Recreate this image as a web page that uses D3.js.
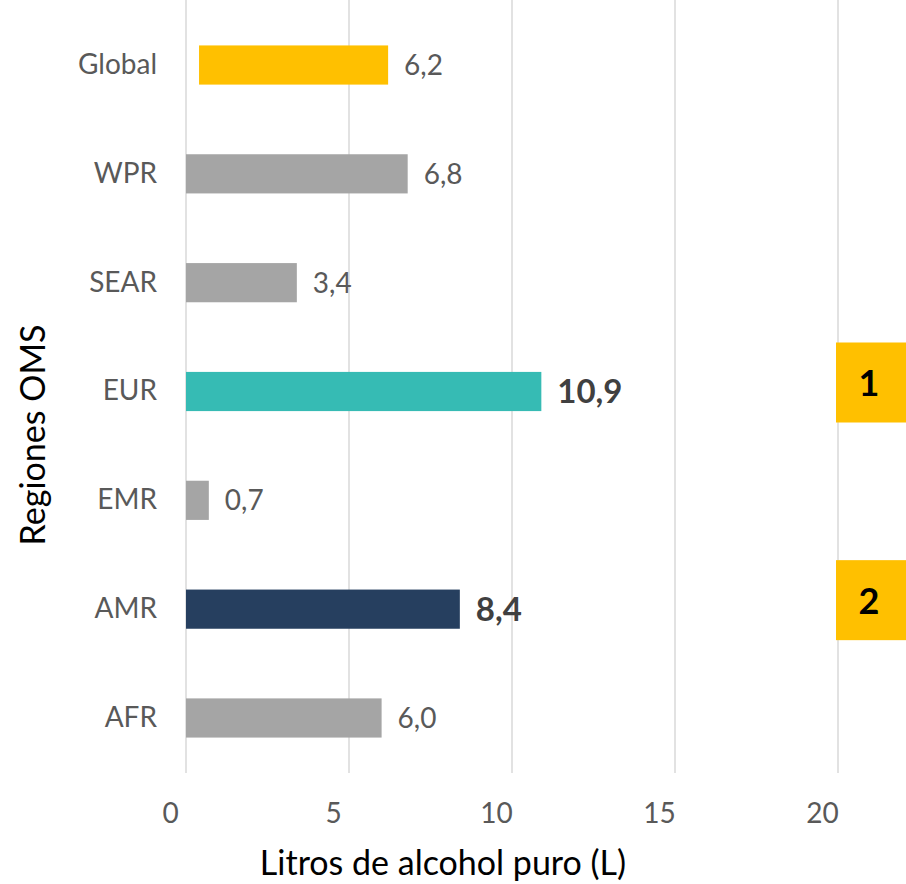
<!DOCTYPE html>
<html><head><meta charset="utf-8">
<script src="https://cdn.jsdelivr.net/npm/d3@7"></script>
<style>body{margin:0;background:#fff}svg{display:block}text{font-family:Lato,"Open Sans",sans-serif}</style>
</head><body>
<svg id="c" width="906" height="884"></svg>
<script>
const categories = ["Global","WPR","SEAR","EUR","EMR","AMR","AFR"];
const values = [6.2,6.8,3.4,10.9,0.7,8.4,6.0];
const barStarts = [0.4,0,0,0,0,0,0];
const valueLabels = ["6,2","6,8","3,4","10,9","0,7","8,4","6,0"];
const highlight = [false,false,false,true,false,true,false];
const barColors = ["#FFC000","#A5A5A5","#A5A5A5","#36BBB4","#A5A5A5","#263F5F","#A5A5A5"];
const xTicks = [0,5,10,15,20];
const badges = [{label:"1", cat:"EUR"},{label:"2", cat:"AMR"}];

const svg = d3.select("#c");
const x = d3.scaleLinear().domain([0,20]).range([186,838]);
const y = d3.scaleBand().domain(categories).range([10.6,772.4]).paddingInner(0.64).paddingOuter(0.32);

// gridlines
svg.append("g").selectAll("line").data(xTicks).join("line")
  .attr("x1",d=>x(d)).attr("x2",d=>x(d)).attr("y1",0).attr("y2",773)
  .attr("stroke","#D9D9D9").attr("stroke-width",1.5);

// x tick labels
const xa = svg.append("g").attr("transform","translate(-16,803)")
  .call(d3.axisBottom(x).tickValues(xTicks).tickSize(0).tickPadding(0).tickFormat(d3.format("d")));
xa.select(".domain").remove();
xa.selectAll("text").attr("font-size",28).attr("fill","#595959").attr("font-family","Lato,sans-serif");

// y axis labels
const ya = svg.append("g").attr("transform","translate(157,0)")
  .call(d3.axisLeft(y).tickSize(0).tickPadding(0));
ya.select(".domain").remove();
ya.selectAll("text").attr("font-size",28).attr("fill","#595959").attr("font-family","Lato,sans-serif");

const data = categories.map((c,i)=>({c,v:values[i],s:barStarts[i],l:valueLabels[i],h:highlight[i],col:barColors[i]}));

svg.append("g").selectAll("rect").data(data).join("rect")
  .attr("x",d=>x(d.s)).attr("width",d=>x(d.v)-x(d.s))
  .attr("y",d=>y(d.c)).attr("height",y.bandwidth()).attr("fill",d=>d.col);

svg.append("g").selectAll("text").data(data).join("text")
  .attr("x",d=>x(d.v)+16).attr("y",d=>y(d.c)+y.bandwidth()/2)
  .attr("dy","0.36em")
  .attr("font-size",d=>d.h?33:28).attr("font-weight",d=>d.h?"bold":"normal")
  .attr("fill",d=>d.h?"#404040":"#595959").text(d=>d.l);

// badges
const bg = svg.append("g").selectAll("g").data(badges).join("g")
  .attr("transform",d=>`translate(836,${y(d.cat)+y.bandwidth()/2-49})`);
bg.append("rect").attr("width",70).attr("height",80).attr("fill","#FFC000");
bg.append("text").attr("x",33).attr("y",41).attr("dy","0.36em").attr("text-anchor","middle")
  .attr("font-size",36).attr("font-weight","bold").attr("fill","#000").text(d=>d.label);

// axis titles
svg.append("text").attr("x",443).attr("y",875).attr("text-anchor","middle")
  .attr("font-size",34).attr("fill","#000").text("Litros de alcohol puro (L)");
svg.append("text").attr("transform","translate(45,435) rotate(-90)").attr("text-anchor","middle")
  .attr("font-size",34).attr("fill","#000").text("Regiones OMS");
</script>
</body></html>
